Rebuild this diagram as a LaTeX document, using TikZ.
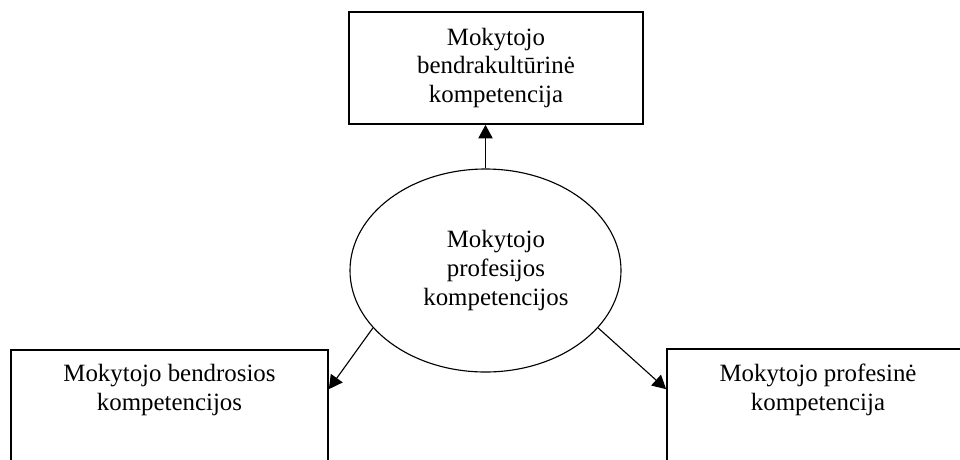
\documentclass[tikz,border=0pt]{standalone}
\usepackage{fontspec}
\setmainfont{Liberation Serif}
\usetikzlibrary{shapes.geometric,arrows.meta,positioning}

\begin{document}
\begin{tikzpicture}[auto, node distance=2cm, >={Triangle[length=3.4mm,width=3.6mm]},
    font=\fontsize{17.7pt}{20.6pt}\selectfont]

        % Frame
        \useasboundingbox (0,0) rectangle (24,-11.475);
        \clip (0,0) rectangle (24,-11.475);

        % Nodes
        \node [draw, ellipse, line width=0.8pt, minimum width=6.775cm, minimum height=5.075cm] (core) at (12.1375,-6.7625) {};
        \node [align=center, right of=core, node distance=0.26cm] (coretxt) {Mokytojo\\profesijos\\kompetencijos};
        \node [draw, rectangle, line width=1.2pt, above of=core, node distance=5.0625cm, xshift=0.2625cm, minimum width=7.35cm, minimum height=2.8cm, align=center] (kult) {Mokytojo\\bendrakultūrinė\\kompetencija};
        \node [draw, rectangle, line width=1.2pt, below of=core, node distance=3.7375cm, xshift=-7.9cm, minimum width=7.925cm, minimum height=3.5cm] (bendr) {};
        \node [draw, rectangle, line width=1.2pt, below of=core, node distance=3.7125cm, xshift=8.3125cm, minimum width=7.55cm, minimum height=3.5cm] (prof) {};

        % Texts of the lower boxes
        \node [anchor=north, inner sep=0pt, align=center] (bendrtxt) at ([yshift=-0.375cm]bendr.north) {Mokytojo bendrosios\\kompetencijos};
        \node [anchor=north, inner sep=0pt, align=center] (proftxt) at ([yshift=-0.4cm]prof.north) {Mokytojo profesinė\\kompetencija};

        % Connections
        \draw [->, line width=0.8pt] (core.north) -- (core.north |- kult.south);
        \draw [->, line width=0.8pt] (core.207) -- ([yshift=-1cm]bendr.north east);
        \draw [->, line width=0.8pt] (core.333) -- ([yshift=-1.025cm]prof.north west);

\end{tikzpicture}
\end{document}
